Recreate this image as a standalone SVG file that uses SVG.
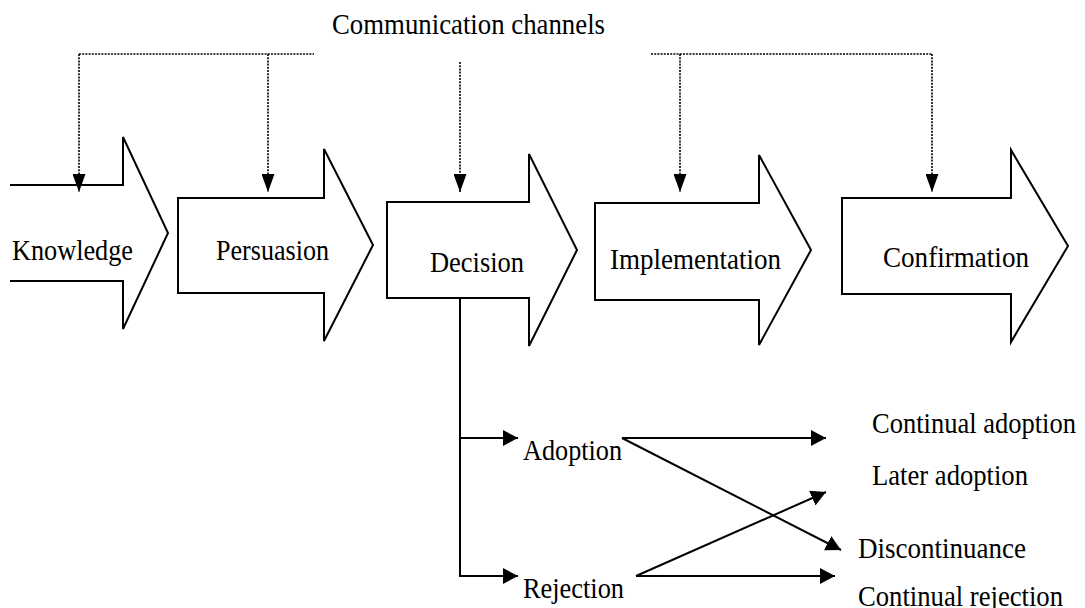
<svg xmlns="http://www.w3.org/2000/svg" width="1085" height="608" viewBox="0 0 1085 608">
<style>
.stage{fill:#fff;stroke:#000;stroke-width:2;stroke-linejoin:miter}
.dot{fill:none;stroke:#000;stroke-width:1.6;stroke-dasharray:2,1.2}
.line{fill:none;stroke:#000;stroke-width:2}
text{font-family:"Liberation Serif","Times New Roman",serif;font-size:30px;fill:#000}
</style>
<defs>
<marker id="dh" markerUnits="userSpaceOnUse" markerWidth="13" markerHeight="18" viewBox="0 0 13 18" refX="6.5" refY="18" orient="0"><path d="M0,0 L13,0 L6.5,18 z" fill="#000"/></marker>
<marker id="ah" markerUnits="userSpaceOnUse" markerWidth="15" markerHeight="16" viewBox="0 0 15 16" refX="15" refY="8" orient="auto"><path d="M0,0 L15,8 L0,16 z" fill="#000"/></marker>
</defs>
<rect width="1085" height="608" fill="#fff"/>
<text id="channels-label" x="332" y="34" textLength="273" lengthAdjust="spacingAndGlyphs">Communication channels</text>
<g id="knowledge"><path class="stage" d="M10,185 H123 V137 L168,233 L123,329 V281 H10"/><text x="12" y="260" textLength="121" lengthAdjust="spacingAndGlyphs">Knowledge</text></g>
<g id="persuasion"><path class="stage" d="M178,198 H324 V149 L373,245 L324,341 V293 H178 Z"/><text x="216" y="260" textLength="113" lengthAdjust="spacingAndGlyphs">Persuasion</text></g>
<g id="decision"><path class="stage" d="M387,202 H529 V154 L577,250 L529,346 V298 H387 Z"/><text x="430" y="272" textLength="94" lengthAdjust="spacingAndGlyphs">Decision</text></g>
<g id="implementation"><path class="stage" d="M595,203 H759 V155 L811,250 L759,345 V300 H595 Z"/><text x="610" y="269" textLength="171" lengthAdjust="spacingAndGlyphs">Implementation</text></g>
<g id="confirmation"><path class="stage" d="M842,198 H1011 V150 L1068,246 L1011,342 V294 H842 Z"/><text x="883" y="267" textLength="146" lengthAdjust="spacingAndGlyphs">Confirmation</text></g>
<g id="adoption"><text x="523" y="460" textLength="99" lengthAdjust="spacingAndGlyphs">Adoption</text></g>
<g id="rejection"><text x="523" y="598" textLength="101" lengthAdjust="spacingAndGlyphs">Rejection</text></g>
<g id="continual-adoption"><text x="872" y="433" textLength="204" lengthAdjust="spacingAndGlyphs">Continual adoption</text></g>
<g id="later-adoption"><text x="872" y="485" textLength="156" lengthAdjust="spacingAndGlyphs">Later adoption</text></g>
<g id="discontinuance"><text x="858" y="558" textLength="168" lengthAdjust="spacingAndGlyphs">Discontinuance</text></g>
<g id="continual-rejection"><text x="858" y="606" textLength="205" lengthAdjust="spacingAndGlyphs">Continual rejection</text></g>
<g id="connectors">
<path class="dot" d="M79,54 H314"/>
<path class="dot" d="M79,54 V192" marker-end="url(#dh)"/>
<path class="dot" d="M268,54 V192" marker-end="url(#dh)"/>
<path class="dot" d="M460,62 V192" marker-end="url(#dh)"/>
<path class="dot" d="M651,54 H932"/>
<path class="dot" d="M680,54 V192" marker-end="url(#dh)"/>
<path class="dot" d="M932,54 V192" marker-end="url(#dh)"/>
<path class="line" d="M460,298 V576"/>
<path class="line" d="M459,438 H518" marker-end="url(#ah)"/>
<path class="line" d="M459,576 H518" marker-end="url(#ah)"/>
<path class="line" d="M622,438 H826" marker-end="url(#ah)"/>
<path class="line" d="M622,438 L841,550" marker-end="url(#ah)"/>
<path class="line" d="M636,576 L826,492" marker-end="url(#ah)"/>
<path class="line" d="M636,576 H835" marker-end="url(#ah)"/>
</g>
</svg>
